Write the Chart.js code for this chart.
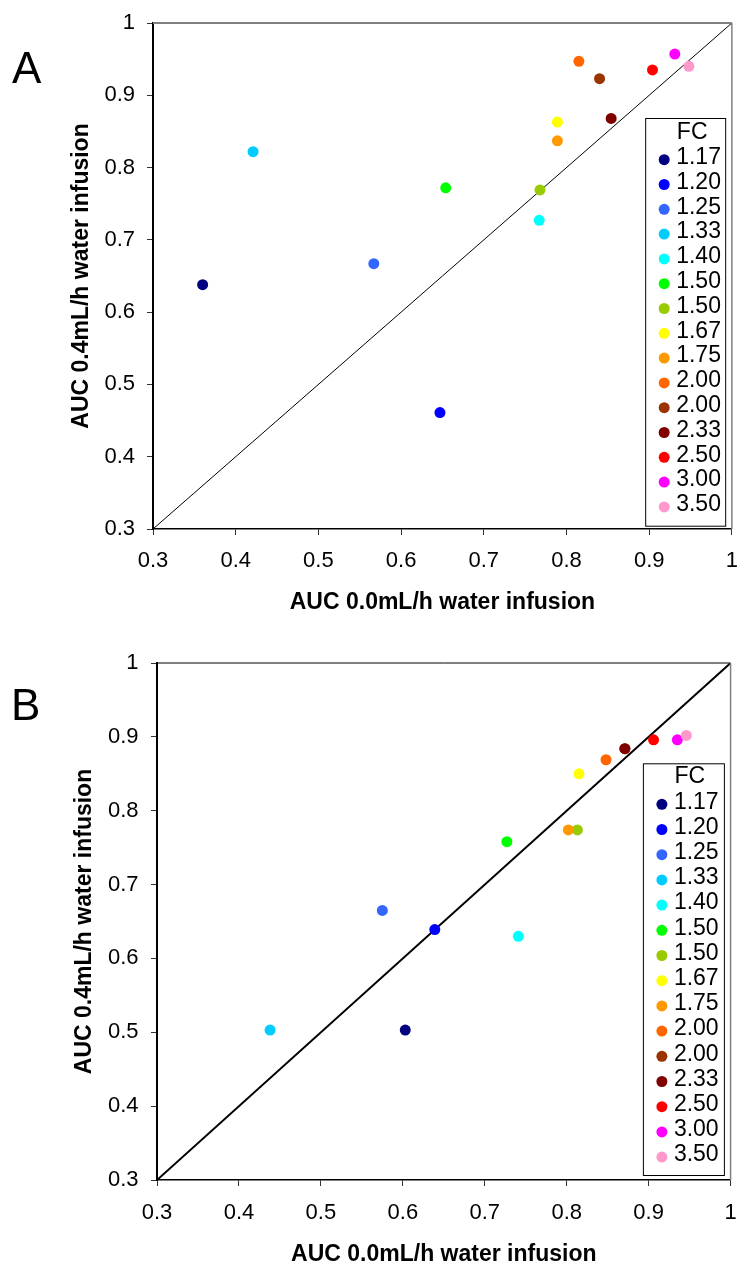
<!DOCTYPE html>
<html>
<head>
<meta charset="utf-8">
<script src="https://cdn.jsdelivr.net/npm/chart.js@4.4.1/dist/chart.umd.min.js"></script>
<style>
body { margin: 0; background: #fff; width: 753px; height: 1265px; overflow: hidden; position: relative; font-family: "Liberation Sans", Arial, sans-serif; }
.panel { position: absolute; left: 0; width: 753px; }
.panel canvas { display: block; }
.tag { position: absolute; font-size: 44px; line-height: 44px; color: #000; }
</style>
</head>
<body>
<div class="panel" style="top:0;height:632px"><canvas id="chartA" width="753" height="632"></canvas></div>
<div class="panel" style="top:632px;height:640px"><canvas id="chartB" width="753" height="640"></canvas></div>
<div class="tag" style="left:12px;top:46px">A</div>
<div class="tag" style="left:11px;top:683px">B</div>
<script>
// fold change groups, one colour each
const fcLabels = ['1.17', '1.20', '1.25', '1.33', '1.40', '1.50', '1.50', '1.67', '1.75', '2.00', '2.00', '2.33', '2.50', '3.00', '3.50'];
const fcColors = ['#000080', '#0000ff', '#3366ff', '#00ccff', '#00ffff', '#00ff00', '#99cc00', '#ffff00', '#ff9900', '#ff6600', '#993300', '#800000', '#ff0000', '#ff00ff', '#ff99cc'];

// panel A: AUC without (x) and with (y) 0.4mL/h water infusion
const aucA0 = [0.360, 0.647, 0.567, 0.421, 0.767, 0.654, 0.768, 0.789, 0.789, 0.815, 0.840, 0.854, 0.904, 0.931, 0.948];
const aucA4 = [0.638, 0.461, 0.667, 0.822, 0.727, 0.772, 0.769, 0.863, 0.837, 0.947, 0.923, 0.868, 0.935, 0.957, 0.940];

// panel B
const aucB0 = [0.603, 0.639, 0.575, 0.438, 0.741, 0.727, 0.813, 0.815, 0.802, 0.848, 0.871, 0.871, 0.906, 0.935, 0.946];
const aucB4 = [0.503, 0.639, 0.665, 0.503, 0.630, 0.758, 0.774, 0.850, 0.774, 0.869, 0.884, 0.884, 0.896, 0.896, 0.902];

const axisTicks = [0.3, 0.4, 0.5, 0.6, 0.7, 0.8, 0.9, 1];
const diagonal = [0.3, 1];
const xTitle = 'AUC 0.0mL/h water infusion';
const yTitle = 'AUC 0.4mL/h water infusion';
const FONT = '"Liberation Sans", Arial, sans-serif';

// top/right frame and the FC legend box
const frame = {
  id: 'frame',
  afterDraw(chart, args, o) {
    const ctx = chart.ctx;
    const a = chart.chartArea;
    ctx.save();
    ctx.strokeStyle = o.topColor;
    ctx.lineWidth = o.topWidth;
    ctx.beginPath();
    ctx.moveTo(a.left, a.top);
    ctx.lineTo(a.right, a.top);
    ctx.stroke();
    ctx.strokeStyle = '#808080';
    ctx.lineWidth = 1.5;
    ctx.beginPath();
    ctx.moveTo(a.right, a.top);
    ctx.lineTo(a.right, a.bottom);
    ctx.stroke();

    // legend
    const lg = o.legend;
    const right = a.right - lg.rightOff;
    const bottom = a.bottom - lg.bottomOff;
    const left = right - lg.width;
    const top = bottom - lg.height;
    ctx.fillStyle = '#fff';
    ctx.fillRect(left, top, lg.width, lg.height);
    ctx.strokeStyle = '#000';
    ctx.lineWidth = 1;
    ctx.strokeRect(left + 0.5, top + 0.5, lg.width, lg.height);
    ctx.fillStyle = '#000';
    ctx.font = '23px ' + FONT;
    ctx.textBaseline = 'middle';
    ctx.textAlign = 'center';
    ctx.fillText('FC', left + 47, top + lg.titleY);
    ctx.textAlign = 'left';
    fcLabels.forEach((lab, i) => {
      const y = top + lg.firstY + i * lg.spacing;
      ctx.fillStyle = fcColors[i];
      ctx.beginPath();
      ctx.arc(left + 19, y, 5.5, 0, Math.PI * 2);
      ctx.fill();
      ctx.fillStyle = '#000';
      ctx.fillText(lab, left + 31, y - 2);
    });
    ctx.restore();
  }
};

function scaleOpts(pos, p) {
  const isY = pos === 'left';
  return {
    type: 'linear',
    position: pos,
    min: 0.3,
    max: 1,
    afterBuildTicks: s => { s.ticks = axisTicks.map(v => ({ value: v })); },
    afterFit: s => { if (isY) s.width = p.yw; else s.height = p.xh; },
    grid: { drawOnChartArea: false, drawTicks: true, tickLength: 6, tickColor: '#333', tickWidth: 1 },
    border: { display: true, color: '#000', width: isY ? 2 : 1.5 },
    ticks: {
      color: '#000',
      font: { family: FONT, size: 22, lineHeight: 1 },
      padding: isY ? p.yPad : p.xPad,
      maxRotation: 0,
      autoSkip: false,
      callback: v => (v === 1 ? '1' : v.toFixed(1))
    },
    title: {
      display: true,
      text: isY ? yTitle : xTitle,
      color: '#000',
      font: { family: FONT, size: 23, weight: 'bold', lineHeight: 1 },
      padding: isY ? { top: p.ytPad, bottom: 0 } : { top: 0, bottom: p.xtPad }
    }
  };
}

function makeChart(id, xs, ys, p) {
  const sets = fcLabels.map((lab, i) => ({
    type: 'scatter',
    label: lab,
    data: [{ x: xs[i], y: ys[i] }],
    backgroundColor: fcColors[i],
    borderWidth: 0,
    pointRadius: 5.5,
    pointHoverRadius: 5.5,
    order: 50 - i
  }));
  sets.push({
    type: 'line',
    label: 'identity',
    data: diagonal.map(v => ({ x: v, y: v })),
    borderColor: '#000',
    borderWidth: p.lineWidth,
    pointRadius: 0,
    fill: false,
    order: 100
  });
  return new Chart(document.getElementById(id), {
    type: 'scatter',
    data: { datasets: sets },
    options: {
      responsive: false,
      animation: false,
      events: [],
      devicePixelRatio: 1,
      layout: { padding: { top: p.top, right: p.right, bottom: 0, left: 0 } },
      scales: { x: scaleOpts('bottom', p), y: scaleOpts('left', p) },
      plugins: {
        legend: { display: false },
        tooltip: { enabled: false },
        frame: { topColor: p.topColor, topWidth: p.topWidth, legend: p.legend }
      }
    },
    plugins: [frame]
  });
}

makeChart('chartA', aucA0, aucA4, {
  top: 23, right: 18, yw: 153, xh: 103,
  xPad: 15, yPad: 12, ytPad: 70.5, xtPad: 17.5,
  lineWidth: 1, topColor: '#808080', topWidth: 2,
  legend: { rightOff: 6.7, bottomOff: 3.3, width: 80, height: 407.7, titleY: 14.7, firstY: 41.7, spacing: 24.8 }
});

makeChart('chartB', aucB0, aucB4, {
  top: 31, right: 7, yw: 157, xh: 92,
  xPad: 16.3, yPad: 12.4, ytPad: 73.5, xtPad: 5.5,
  lineWidth: 2, topColor: '#000', topWidth: 1,
  legend: { rightOff: 6.7, bottomOff: 5, width: 81, height: 411.7, titleY: 13.7, firstY: 41, spacing: 25.2 }
});
</script>
</body>
</html>
